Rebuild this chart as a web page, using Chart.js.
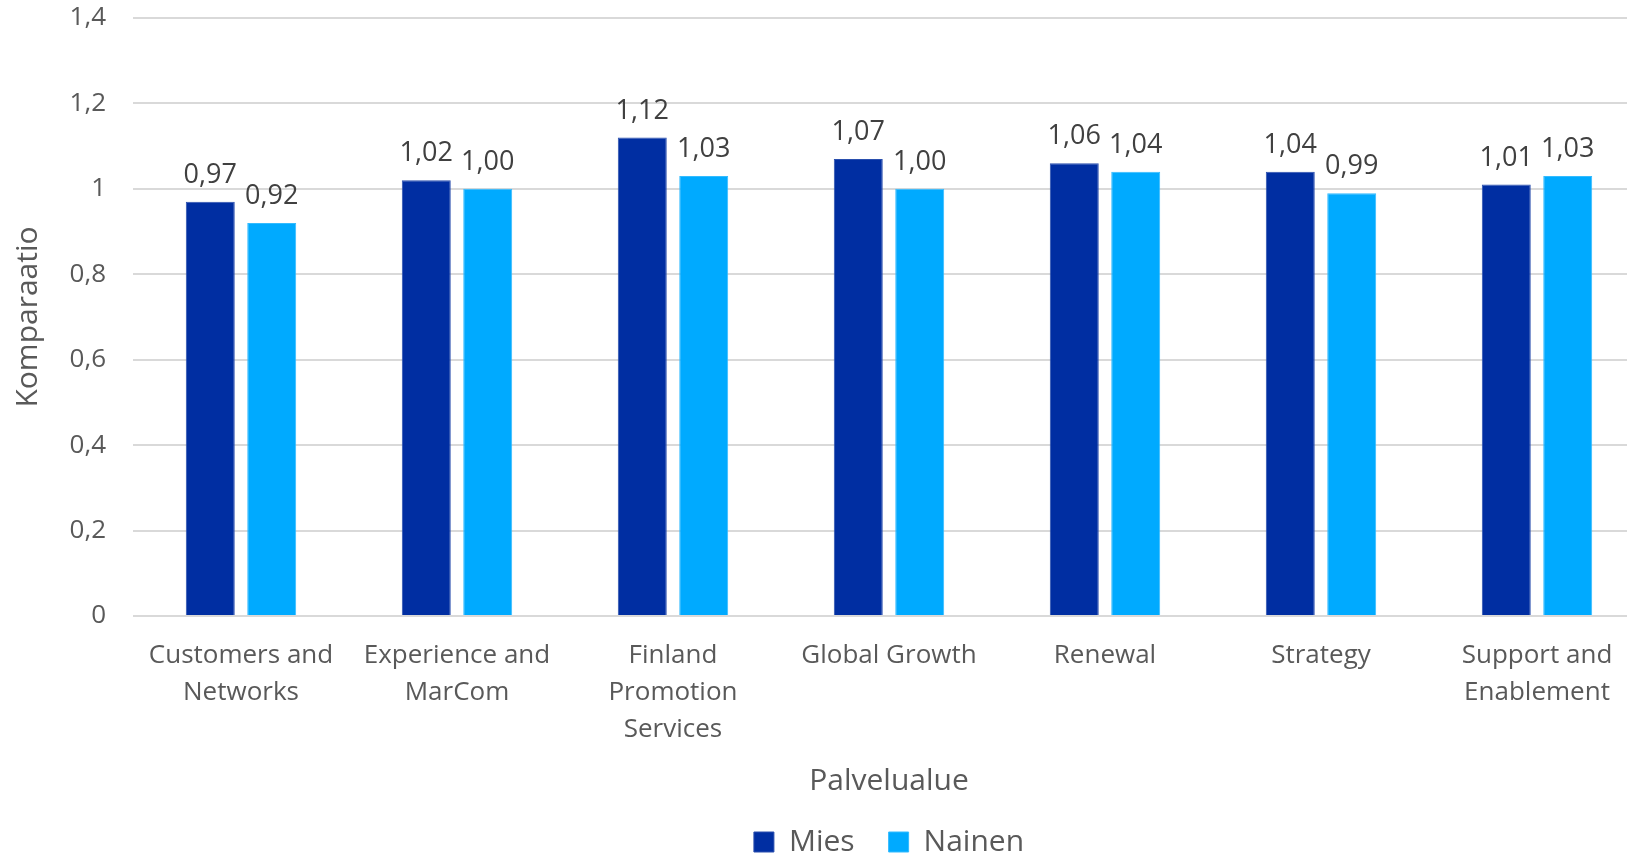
<!DOCTYPE html>
<html>
<head>
<meta charset="utf-8">
<script src="https://cdn.jsdelivr.net/npm/chart.js@4/dist/chart.umd.min.js"></script>
<style>
  html, body { margin: 0; padding: 0; background: #fff; overflow: hidden; }
  #wrap { width: 1627px; height: 856px; overflow: hidden; }
</style>
</head>
<body>
<div id="wrap"><canvas id="c" width="1645" height="856"></canvas></div>
<script>
// Palvelualueet (x-akselin kategoriat, rivitettyinä)
const categories = [
  ["Customers and", "Networks"],
  ["Experience and", "MarCom"],
  ["Finland", "Promotion", "Services"],
  "Global Growth",
  "Renewal",
  "Strategy",
  ["Support and", "Enablement"]
];
// Komparaatio sukupuolittain
const miesValues   = [0.97, 1.02, 1.12, 1.07, 1.06, 1.04, 1.01];
const nainenValues = [0.92, 1.00, 1.03, 1.00, 1.04, 0.99, 1.03];
const seriesNames  = ["Mies", "Nainen"];
// y-akselin asteikko
const yTicks = [0, 0.2, 0.4, 0.6, 0.8, 1, 1.2, 1.4];

const FONT = "'Open Sans', 'Noto Sans', sans-serif";
const fmt2 = v => v.toFixed(2).replace('.', ',');
const fmtTick = v => String(+v.toFixed(1)).replace('.', ',');

// Arvotekstit pylväiden yläpuolelle
const valueLabels = {
  id: 'valueLabels',
  afterDatasetsDraw(chart) {
    const ctx = chart.ctx;
    ctx.save();
    ctx.font = `27px ${FONT}`;
    ctx.fillStyle = '#404040';
    ctx.textAlign = 'center';
    ctx.textBaseline = 'alphabetic';
    chart.data.datasets.forEach((ds, i) => {
      chart.getDatasetMeta(i).data.forEach((bar, j) => {
        ctx.fillText(fmt2(ds.data[j]), bar.x, bar.y - 19);
      });
    });
    ctx.restore();
  }
};

// Selite keskitetään piirtoalueen mukaan ja lasketaan hieman alemmas
const placeLegend = {
  id: 'placeLegend',
  afterLayout(chart) {
    const lg = chart.legend, ca = chart.chartArea;
    if (!lg || !ca) return;
    const shift = (ca.left + ca.right) / 2 - (lg.left + lg.right) / 2;
    lg.left += shift;
    lg.right += shift;
    lg.top += 11;
    lg.bottom += 11;
  }
};

new Chart(document.getElementById('c'), {
  type: 'bar',
  data: {
    labels: categories,
    datasets: [
      { label: seriesNames[0], data: miesValues,   backgroundColor: '#002EA2', borderColor: '#2a4fae', borderWidth: 1 },
      { label: seriesNames[1], data: nainenValues, backgroundColor: '#00AAFF', borderColor: '#33bbff', borderWidth: 1 }
    ]
  },
  options: {
    responsive: false,
    animation: false,
    devicePixelRatio: 1,
    layout: { padding: { top: 18, left: 0, right: 0, bottom: 0 } },
    datasets: { bar: { categoryPercentage: 0.569, barPercentage: 0.797 } },
    plugins: {
      tooltip: { enabled: false },
      legend: {
        position: 'bottom',
        align: 'center',
        labels: {
          font: { family: FONT, size: 30 },
          color: '#595959',
          boxWidth: 20,
          boxHeight: 20,
          padding: 34
        }
      }
    },
    scales: {
      x: {
        grid: { display: false, drawTicks: false },
        border: { display: false },
        ticks: {
          font: { family: FONT, size: 26, lineHeight: 1.42 },
          color: '#595959',
          padding: 21,
          maxRotation: 0,
          autoSkip: false
        },
        title: {
          display: true,
          text: 'Palvelualue',
          font: { family: FONT, size: 30, lineHeight: 1 },
          color: '#595959',
          padding: { top: 0, bottom: -14 }
        },
        afterFit(scale) {
          scale.height = 166;
          scale.paddingLeft = 0;
          scale.paddingRight = 0;
        }
      },
      y: {
        min: 0,
        max: 1.4,
        afterBuildTicks(scale) { scale.ticks = yTicks.map(v => ({ value: v })); },
        grid: { color: '#d9d9d9', lineWidth: 2, drawTicks: false },
        border: { display: false },
        ticks: {
          font: { family: FONT, size: 26 },
          color: '#595959',
          padding: 27,
          callback: v => fmtTick(v)
        },
        title: {
          display: true,
          text: 'Komparaatio',
          font: { family: FONT, size: 30, lineHeight: 1.2 },
          color: '#595959',
          padding: { top: 10, bottom: 0 }
        },
        afterFit(scale) {
          scale.width = 133;
          scale.paddingTop = 0;
          scale.paddingBottom = 0;
        }
      }
    }
  },
  plugins: [valueLabels, placeLegend]
});
</script>
</body>
</html>
